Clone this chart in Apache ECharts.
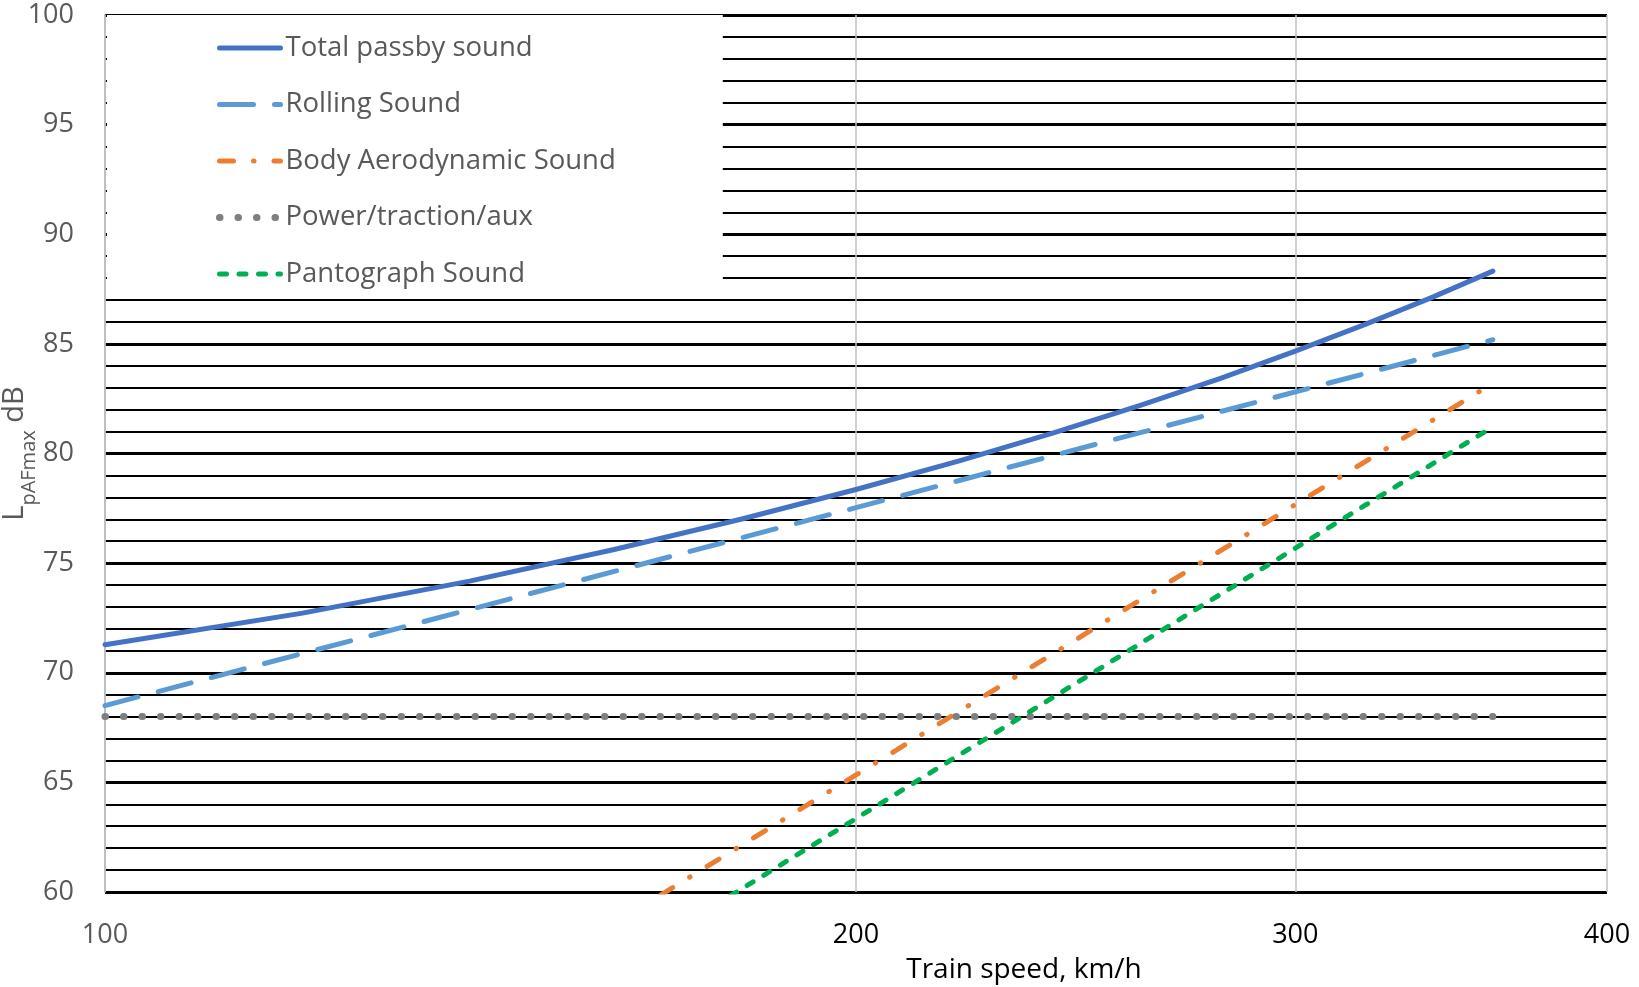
<!DOCTYPE html>
<html>
<head>
<meta charset="utf-8">
<script src="https://cdn.jsdelivr.net/npm/echarts@6/dist/echarts.min.js"></script>
<style>
  html, body { margin: 0; padding: 0; background: #ffffff; }
  #chart { width: 1639px; height: 987px; }
</style>
</head>
<body>
<div id="chart"></div>
<script>
// values (log speed axis)
const speeds = [100, 120, 140, 160, 180, 200, 220, 240, 260, 280, 300, 320, 340, 360];
const totalSound = [71.28, 72.72, 74.18, 75.62, 77.01, 78.36, 79.66, 80.94, 82.20, 83.43, 84.67, 85.89, 87.10, 88.32];
const rollingSound = [68.5, 70.88, 72.88, 74.62, 76.16, 77.53, 78.77, 79.91, 80.95, 81.91, 82.81, 83.65, 84.44, 85.19];
const bodyAeroSound = [null, null, null, 58.56, 62.14, 65.34, 68.24, 70.88, 73.32, 75.57, 77.67, 79.63, 81.47, 83.21];
const powerSound = [68, 68, 68, 68, 68, 68, 68, 68, 68, 68, 68, 68, 68, 68];
const pantographSound = [null, null, null, 56.57, 60.15, 63.35, 66.25, 68.89, 71.33, 73.58, 75.68, 77.64, 79.48, 81.22];

const xTicks = [100, 200, 300, 400];

const font = "'Open Sans', 'Noto Sans', sans-serif";
const grayText = "#595959";

const pairs = (vals) => speeds.map((s, i) => [s, vals[i]]);

const lineSeries = (name, vals, color, type, width) => ({
  name,
  type: "line",
  data: pairs(vals),
  symbol: "none",
  showSymbol: false,
  connectNulls: false,
  clip: true,
  lineStyle: {color, width, type, cap: "round", join: "round"},
  itemStyle: {color},
  emphasis: {disabled: true},
  z: 3,
});

const chart = echarts.init(document.getElementById("chart"), null, {renderer: "canvas"});

chart.setOption({
  animation: false,
  backgroundColor: "#ffffff",
  grid: {left: 105, right: 32, top: 15, bottom: 95, containLabel: false, outerBoundsMode: "none"},
  legend: {
    orient: "vertical",
    left: 107,
    top: 15,
    padding: [18, 107, 2, 109],
    backgroundColor: "#ffffff",
    itemWidth: 61,
    itemHeight: 14,
    itemGap: 26.5,
    selectedMode: false,
    itemStyle: {opacity: 0, borderWidth: 0},
    lineStyle: {width: "inherit", type: "inherit", cap: "round"},
    textStyle: {color: grayText, fontSize: 27.5, lineHeight: 30, fontFamily: font},
    data: ["Total passby sound", "Rolling Sound", "Body Aerodynamic Sound", "Power/traction/aux", "Pantograph Sound"],
  },
  xAxis: {
    type: "log",
    logBase: 10,
    min: 100,
    max: 400,
    z: 1,
    name: "Train speed, km/h",
    nameLocation: "middle",
    nameGap: 62,
    nameMoveOverlap: false,
    nameTextStyle: {color: "#000000", fontSize: 28, lineHeight: 32, fontFamily: font, padding: [0, 0, 0, 336]},
    axisLine: {show: false},
    axisTick: {show: false, customValues: xTicks},
    axisLabel: {
      customValues: xTicks,
      fontSize: 27,
      fontFamily: font,
      margin: 30,
      color: (value) => (value <= 100 ? grayText : "#000000"),
    },
    splitLine: {show: true, lineStyle: {color: "#c0c0c0", width: 1.5}},
  },
  yAxis: {
    type: "value",
    min: 60,
    max: 100,
    interval: 5,
    name: "{a|L}{sub|pAFmax}{a| dB}",
    nameLocation: "middle",
    nameGap: 66,
    nameMoveOverlap: false,
    nameTextStyle: {
      rich: {
        a: {fontSize: 29, lineHeight: 48, color: grayText, fontFamily: font},
        sub: {fontSize: 20, lineHeight: 20, verticalAlign: "bottom", color: grayText, fontFamily: font},
      },
    },
    axisLine: {show: true, lineStyle: {color: "#a6a6a6", width: 1.5}},
    axisTick: {show: false},
    axisLabel: {fontSize: 27, fontFamily: font, color: grayText, margin: 31},
    splitLine: {show: true, lineStyle: {color: "#000000", width: 3}},
    minorTick: {show: false, splitNumber: 5},
    minorSplitLine: {show: true, lineStyle: {color: "#000000", width: 2}},
  },
  series: [
    lineSeries("Total passby sound", totalSound, "#4472c4", "solid", 5),
    lineSeries("Rolling Sound", rollingSound, "#5b9bd5", [34, 21], 5),
    lineSeries("Body Aerodynamic Sound", bodyAeroSound, "#ed7d31", [14, 20, 0.5, 20], 5),
    lineSeries("Power/traction/aux", powerSound, "#7f7f7f", [0.5, 18], 7),
    lineSeries("Pantograph Sound", pantographSound, "#00b050", [7, 12.5], 5),
  ],
});
</script>
</body>
</html>
